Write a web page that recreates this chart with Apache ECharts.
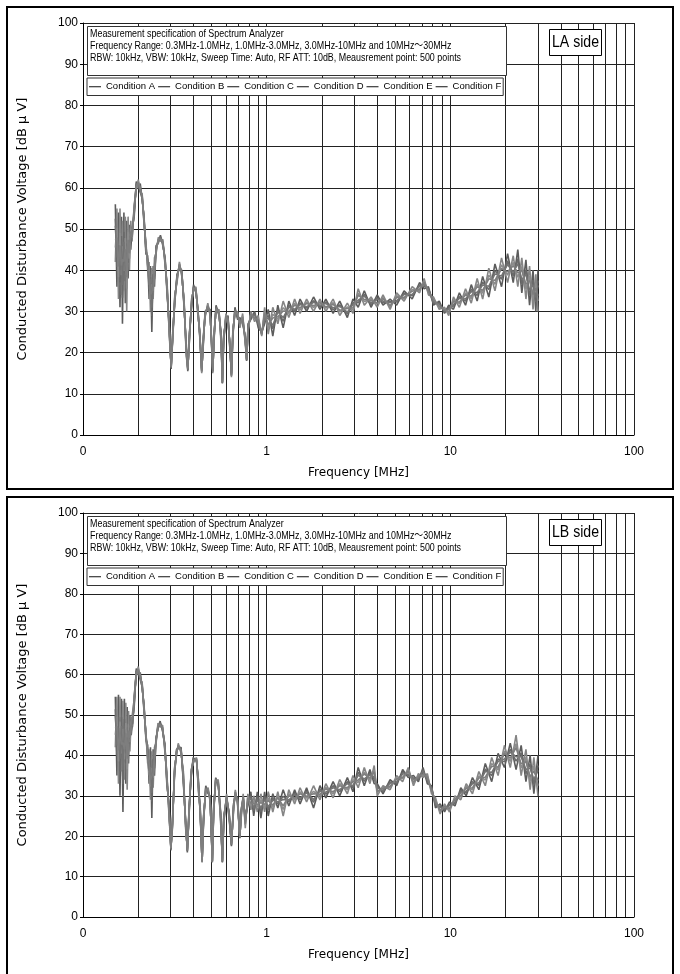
<!DOCTYPE html>
<html>
<head>
<meta charset="utf-8">
<script src="https://cdn.jsdelivr.net/npm/echarts@6/dist/echarts.min.js"></script>
<style>
  html, body { margin: 0; padding: 0; background: #fff; }
  #chart { width: 680px; height: 974px; }
</style>
</head>
<body>
<div id="chart"></div>
<script>
const names = ['Condition A', 'Condition B', 'Condition C', 'Condition D', 'Condition E', 'Condition F'];
const colors = ['#5c5c5c', '#858585', '#6a6a6a', '#8c8c8c', '#737373', '#7e7e7e'];
const minorTicks = [0.2, 0.3, 0.4, 0.5, 0.6, 0.7, 0.8, 0.9, 2, 3, 4, 5, 6, 7, 8, 9, 20, 30, 40, 50, 60, 70, 80, 90];
const sideLabels = ['LA side', 'LB side'];
const specLines = [
  'Measurement specification of Spectrum Analyzer',
  'Frequency Range: 0.3MHz-1.0MHz, 1.0MHz-3.0MHz, 3.0MHz-10MHz and 10MHz\uFF5E30MHz',
  'RBW: 10kHz, VBW: 10kHz, Sweep Time: Auto, RF ATT: 10dB, Meausrement point: 500 points'
];

// ---- LA side ----
const freqLA = [
  0.150,0.153,0.156,0.159,0.162,0.164,0.167,0.170,0.173,0.176,
  0.179,0.182,0.185,0.190,0.195,0.200,0.205,0.210,0.215,0.220,
  0.225,0.229,0.233,0.237,0.241,0.245,0.250,0.257,0.264,0.272,
  0.280,0.287,0.295,0.302,0.308,0.316,0.325,0.335,0.345,0.355,
  0.365,0.372,0.380,0.390,0.400,0.412,0.422,0.432,0.443,0.452,
  0.462,0.478,0.492,0.502,0.509,0.517,0.530,0.550,0.565,0.574,
  0.583,0.600,0.616,0.632,0.643,0.655,0.672,0.695,0.715,0.740,
  0.765,0.778,0.792,0.820,0.860,0.900,0.940,0.975,1.02,1.08,
  1.15,1.23,1.32,1.42,1.52,1.65,1.80,1.95,2.10,2.30,
  2.50,2.75,2.95,3.15,3.40,3.70,4.00,4.30,4.70,5.10,
  5.60,6.20,6.80,7.20,7.60,8.10,8.70,9.30,9.80,10.4,
  11.2,12.1,13.0,14.0,15.0,16.2,17.5,19.0,20.5,22.0,
  23.3,24.5,25.8,27.0,28.2,29.2,30.0
];
const laA = [
  56,36,54,31,53,27,54,32,52,38,
  51,45,50,53,61.5,60,61,57,53,44,
  43.5,33,41,25,41,36,46,46.5,48.5,46,
  43,34,27,16,25,32,39,40.5,40,31,
  22,15.5,25,31,36.5,34.5,31,24,16,22,
  30,30.5,30.5,21,16,23,31.5,29,25,12.5,
  24,28,29,20,15,24,31,28,28.5,27,
  24,18,27,28,30,26,25,27,30.5,24,
  31.5,26,32.5,29,33,30,33.5,30.5,33,29.5,
  32.5,28.5,33,31,35,31,34,31.5,33,31.5,
  35,33,37,35.5,36,31.5,32.5,29.5,31.5,30.5,
  34.5,31.5,36.5,32.5,38.5,33.5,41.5,36,44,37,
  45,34.5,42.5,31.5,40,30,40
];
const laB = [
  42,55,33,55,34,52,35,53,30,53,
  40,52,47,56,59.5,62,59,58.5,51,47,
  40,42,30,40.5,33,43,44,48,47,47.5,
  41,37,24,17,23,34,37,42,38.5,33,
  19,16.5,23,33,35,36,29,25.5,15,24,
  28.5,32,29,23,15,25,30,30.5,22,13,
  22,29.5,27,22,14,26,29,30,26,29.5,
  22,18.5,25,30,27.5,29,24,31,24.5,31,
  27,32.5,28.5,33,29.5,33,30,33,30,33,
  29,32,29.5,35.5,31.5,33.5,31,34,30.5,34.5,
  32.5,36,34.5,38,34,33.5,30.5,31,29,33.5,
  31,35.5,32,38,33,40.5,35,43,37,43.5,
  36,43,33,41,30.5,39,30
];
const laC = [
  52.5,40.8,48.8,37,48.3,33.3,49.3,37.3,46.5,41.8,
  48.3,46.8,49.3,53.8,61,60.5,60.5,57.4,52.5,44.8,
  42.6,35.3,38.3,28.9,39,37.8,45.5,46.9,48.1,46.4,
  42.5,34.8,26.3,16.3,24.5,32.5,38.5,40.9,39.6,31.5,
  21.3,15.8,24.5,31.5,36.1,34.9,30.5,24.4,15.8,22.5,
  29.6,30.9,30.1,21.5,15.8,23.5,31.1,29.4,24.3,12.6,
  23.5,28.4,28.5,20.5,14.8,24.5,30.5,28.5,27.9,27.6,
  23.5,18.1,26.5,28.5,29.4,26.8,24.8,28,29,25.8,
  30.4,27.6,31.5,30,32.1,30.8,32.6,31.1,32.3,30.4,
  31.6,29.4,32.1,32.1,34.1,31.6,33.3,32.1,32.4,32.3,
  34.4,33.8,36.4,36.1,35.5,32,32,29.9,30.9,31.3,
  33.6,32.5,35.4,33.9,37.1,35.3,39.9,37.8,42.3,38.6,
  42.8,36.6,40.1,33.9,37.6,32.3,37.5
];
const laD = [
  45.5,50.3,38.3,49,38.8,45.8,39.8,47.8,35.5,49.3,
  42.8,50.3,47.8,55.3,60,61.5,59.5,58.1,51.5,46.3,
  40.9,39.8,32.8,36.6,35,41.3,44.5,47.6,47.4,47.1,
  41.5,36.3,24.8,16.8,23.5,33.5,37.5,41.6,38.9,32.5,
  19.8,16.3,23.5,32.5,35.4,35.6,29.5,25.1,15.3,23.5,
  28.9,31.6,29.4,22.5,15.3,24.5,30.4,30.1,22.8,12.9,
  22.5,29.1,27.5,21.5,14.3,25.5,29.5,29.5,26.6,28.9,
  22.5,18.4,25.5,29.5,28.1,28.3,24.3,30,26,29.3,
  28.1,30.9,29.5,32,30.4,32.3,30.9,32.4,30.8,32.1,
  29.9,31.1,30.4,34.4,32.4,32.9,31.8,33.4,31.1,33.8,
  33.1,35.3,35.1,37.4,34.5,33,31,30.6,29.6,32.8,
  31.9,34.5,33.1,36.6,34.4,38.8,36.6,41.3,38.8,41.9,
  38.3,40.9,35.4,38.6,32.9,36.8,32.5
];
const laE = [
  50.8,43.1,46.1,40,45.9,36.4,46.9,39.9,43.8,43.6,
  46.9,47.6,48.9,54.1,60.8,60.8,60.3,57.6,52.3,45.1,
  42.2,36.4,36.9,30.9,38,38.6,45.3,47.1,47.9,46.6,
  42.3,35.1,25.9,16.4,24.3,32.8,38.3,41.1,39.4,31.8,
  20.9,15.9,24.3,31.8,35.9,35.1,30.3,24.6,15.6,22.8,
  29.4,31.1,29.9,21.8,15.6,23.8,30.9,29.6,23.9,12.7,
  23.3,28.6,28.3,20.8,14.6,24.8,30.3,28.8,27.6,28,
  23.3,18.2,26.3,28.8,29.1,27.1,24.6,28.5,28.3,26.6,
  29.9,28.5,31,30.5,31.7,31.1,32.2,31.5,31.9,30.9,
  31.2,29.8,31.7,32.7,33.7,32,32.9,32.5,32.1,32.6,
  34.1,34.1,36.1,36.5,35.3,32.3,31.8,30.1,30.6,31.6,
  33.2,33,34.8,34.6,36.4,36.1,39.1,38.6,41.4,39.5,
  41.6,37.7,39,35.1,36.5,33.4,36.3
];
const laF = [
  47.3,47.9,40.9,46,41.1,42.6,42.1,45.1,38.3,47.4,
  44.1,49.4,48.1,54.9,60.3,61.3,59.8,57.9,51.8,45.9,
  41.3,38.6,34.1,34.7,36,40.4,44.8,47.4,47.6,46.9,
  41.8,35.9,25.1,16.6,23.8,33.3,37.8,41.4,39.1,32.3,
  20.1,16.1,23.8,32.3,35.6,35.4,29.8,24.9,15.4,23.3,
  29.1,31.4,29.6,22.3,15.4,24.3,30.6,29.9,23.1,12.8,
  22.8,28.9,27.8,21.3,14.4,25.3,29.8,29.3,26.9,28.6,
  22.8,18.3,25.8,29.3,28.4,27.9,24.4,29.5,26.8,28.4,
  28.7,30.1,30,31.5,30.9,31.9,31.4,32.1,31.1,31.7,
  30.3,30.7,30.9,33.9,32.9,32.6,32.1,33.1,31.4,33.4,
  33.4,34.9,35.4,37.1,34.8,32.8,31.3,30.4,29.9,32.4,
  32.3,34,33.7,36,35.1,37.9,37.5,40.4,39.6,41.1,
  39.4,39.9,36.6,37.5,34.1,35.6,33.8
];

// ---- LB side ----
const freqLB = [
  0.150,0.153,0.156,0.159,0.162,0.165,0.168,0.171,0.174,0.177,
  0.180,0.183,0.186,0.190,0.195,0.200,0.205,0.210,0.215,0.220,
  0.225,0.229,0.233,0.237,0.241,0.245,0.250,0.256,0.263,0.271,
  0.279,0.286,0.294,0.301,0.307,0.315,0.323,0.330,0.342,0.352,
  0.362,0.370,0.378,0.388,0.398,0.415,0.425,0.435,0.445,0.453,
  0.466,0.480,0.492,0.500,0.506,0.514,0.528,0.545,0.562,0.574,
  0.584,0.605,0.625,0.643,0.660,0.675,0.695,0.714,0.728,0.745,
  0.765,0.790,0.820,0.850,0.890,0.930,0.975,1.02,1.08,1.15,
  1.23,1.32,1.42,1.52,1.65,1.80,1.95,2.10,2.30,2.50,
  2.75,2.95,3.15,3.40,3.65,3.85,4.00,4.30,4.70,5.10,
  5.50,5.90,6.30,6.70,7.10,7.50,7.90,8.30,8.80,9.30,
  9.90,10.6,11.4,12.2,13.2,14.3,15.5,16.8,18.2,19.7,
  21.2,22.8,24.3,25.8,27.2,28.5,30.0
];
const lbA = [
  54.5,35,55,30,54,26,54,33,52,38,
  50,45,48.5,52,61.5,60,60.5,56.5,52.5,44,
  42.5,33,42,24.5,41.5,35,44.5,46.5,48.5,46,
  43,33,28,16.5,24,35,41.5,41.5,42,33,
  24,16,27,34.5,39.5,38.5,34,25,14,23,
  32.5,30.5,30,20,14,25,34.5,32.5,26,13.5,
  25,29,26,17.5,28,30,29.5,19.5,27,29,
  25,27.5,31,25,31,24.5,31,25,30.5,27,
  31.5,27.5,31.5,28,32,27,32.5,29.5,33.5,30,
  34.5,31,37,32.5,36.5,33,33,30.5,34,32.5,
  36.5,34.5,35,33.5,37,33,32.5,27,28,26,
  28.5,27.5,32,30,34.5,31.5,38,33.5,40.5,37,
  43,36.5,42.5,33.5,40,30.5,40
];
const lbB = [
  42,54.5,33,54.5,36,53.5,34,53,31.5,51,
  41,49.5,47,55,59.5,62,59,58,50.5,46,
  38,41.5,29,41,32,42,43,48,47,47.5,
  41,36,25,17.5,22,37,40,43,40.5,36,
  22,17,25,36.5,38,39.5,31,27,13.5,25,
  31,32,28.5,22,13.5,27,33.5,34,23,14,
  23,30.5,24,18.5,26,31.5,27.5,20,25,30.5,
  22,30.5,26.5,30,26,30.5,26,31,26,31,
  25,31.5,28,32,28.5,32.5,29,33,29.5,34,
  30.5,35,32,37,33,37.5,30,32.5,31.5,35,
  33.5,37,32.5,35.5,34.5,35.5,30.5,29.5,25.5,28,
  26,30,29,33,30.5,36,32.5,39.5,35,42.5,
  37,45,35,41.5,31.5,39.5,30
];
const lbC = [
  51.4,39.9,49.5,36.1,49.5,32.9,49,38,46.9,41.3,
  47.8,46.1,48.1,52.8,61,60.5,60.1,56.9,52,44.5,
  41.4,35.1,38.8,28.6,39.1,36.8,44.1,46.9,48.1,46.4,
  42.5,33.8,27.3,16.8,23.5,35.5,41.1,41.9,41.6,33.8,
  23.5,16.3,26.5,35,39.1,38.8,33.3,25.5,13.9,23.5,
  32.1,30.9,29.6,20.5,13.9,25.5,34.3,32.9,25.3,13.6,
  24.5,29.4,25.5,17.8,27.5,30.4,29,19.6,26.5,29.4,
  24.3,28.3,29.9,26.3,29.8,26,29.8,26.5,29.4,28,
  29.9,28.5,30.6,29,31.1,28.4,31.6,30.4,32.5,31,
  33.5,32,35.8,33.6,35.6,34.1,32.3,31,33.4,33.1,
  35.8,35.1,34.4,34,36.4,33.6,32,27.6,27.4,26.5,
  27.9,28.1,31.3,30.8,33.5,32.6,36.6,35,39.1,38.4,
  41.5,38.6,40.6,35.5,37.9,32.8,37.5
];
const lbD = [
  45.1,49.6,38.5,48.4,40.5,46.6,39,48,36.6,47.8,
  43.3,48.4,47.4,54.3,60,61.5,59.4,57.6,51,45.5,
  39.1,39.4,32.3,36.9,34.4,40.3,43.4,47.6,47.4,47.1,
  41.5,35.3,25.8,17.3,22.5,36.5,40.4,42.6,40.9,35.3,
  22.5,16.8,25.5,36,38.4,39.3,31.8,26.5,13.6,24.5,
  31.4,31.6,28.9,21.5,13.6,26.5,33.8,33.6,23.8,13.9,
  23.5,30.1,24.5,18.3,26.5,31.1,28,19.9,25.5,30.1,
  22.8,29.8,27.6,28.8,27.3,29,27.3,29.5,27.1,30,
  26.6,30.5,28.9,31,29.4,31.1,29.9,32.1,30.5,33,
  31.5,34,33.3,35.9,33.9,36.4,30.8,32,32.1,34.4,
  34.3,36.4,33.1,35,35.1,34.9,31,28.9,26.1,27.5,
  26.6,29.4,29.8,32.3,31.5,34.9,33.9,38,36.4,41.1,
  38.5,42.9,36.9,39.5,33.6,37.3,32.5
];
const lbE = [
  49.9,42.4,46.8,39.2,47.3,36.4,46.5,40.5,44.4,42.9,
  46.6,46.7,47.9,53.1,60.8,60.8,59.9,57.1,51.8,44.8,
  40.9,36.2,37.1,30.7,38,37.6,43.9,47.1,47.9,46.6,
  42.3,34.1,26.9,16.9,23.3,35.8,40.9,42.1,41.4,34.1,
  23.3,16.4,26.3,35.3,38.9,38.9,32.9,25.8,13.8,23.8,
  31.9,31.1,29.4,20.8,13.8,25.8,34.1,33.1,24.9,13.7,
  24.3,29.6,25.3,17.9,27.3,30.6,28.8,19.7,26.3,29.6,
  23.9,28.6,29.4,26.9,29.1,26.8,29.1,27.3,28.9,28.5,
  29.1,29,30.2,29.5,30.7,29.1,31.2,30.9,32,31.5,
  33,32.5,35.1,34.2,35.2,34.7,31.9,31.3,33.1,33.4,
  35.4,35.4,34.1,34.3,36.1,34,31.8,28,27.1,26.8,
  27.6,28.4,30.9,31.1,33,33.2,36,35.8,38.5,39.1,
  40.8,39.7,39.7,36.5,36.9,33.9,36.3
];
const lbF = [
  46.7,47.2,41.3,45.4,42.7,43.2,41.5,45.5,39.2,46.1,
  44.4,47.9,47.6,53.9,60.3,61.3,59.6,57.4,51.3,45.3,
  39.7,38.4,33.9,34.9,35.6,39.4,43.6,47.4,47.6,46.9,
  41.8,34.9,26.1,17.1,22.8,36.3,40.6,42.4,41.1,34.9,
  22.8,16.6,25.8,35.8,38.6,39.1,32.1,26.3,13.7,24.3,
  31.6,31.4,29.1,21.3,13.7,26.3,33.9,33.4,24.1,13.8,
  23.8,29.9,24.8,18.1,26.8,30.9,28.3,19.8,25.8,29.9,
  23.1,29.4,28.2,28.1,27.9,28.3,27.9,28.8,27.7,29.5,
  27.5,30,29.4,30.5,29.9,30.5,30.4,31.7,31,32.5,
  32,33.5,33.9,35.4,34.4,35.9,31.1,31.8,32.4,34.1,
  34.6,36.1,33.4,34.8,35.4,34.6,31.3,28.6,26.4,27.3,
  26.9,29.1,30.1,31.9,32,34.4,34.6,37.3,37.1,40.5,
  39.3,41.9,37.9,38.5,34.7,36.1,33.8
];

const panels = [
  { freq: freqLA, series: [laA, laB, laC, laD, laE, laF] },
  { freq: freqLB, series: [lbA, lbB, lbC, lbD, lbE, lbF] }
];

const NARROW = "'Liberation Sans', 'Noto Sans CJK JP', sans-serif";
const SANS = "'DejaVu Sans', 'Noto Sans', sans-serif";

const grids = [
  { left: 83, top: 23, width: 551, height: 412 },
  { left: 83, top: 513, width: 551, height: 404 }
];
const offsets = [0, 490];

const chart = echarts.init(document.getElementById('chart'), null, { renderer: 'canvas' });

const xAxes = grids.map((g, i) => ({
  type: 'log', logBase: 10, min: 0.1, max: 100, gridIndex: i,
  name: 'Frequency [MHz]', nameLocation: 'middle', nameGap: 32,
  nameTextStyle: { fontFamily: SANS, fontSize: 12, color: '#000' },
  axisLine: { show: true, lineStyle: { color: '#000', width: 1 } },
  axisTick: { show: false },
  axisLabel: { fontFamily: NARROW, fontSize: 12, color: '#000', margin: 11,
    formatter: v => (v < 1 ? '0' : String(Math.round(v))) },
  splitLine: { show: true, lineStyle: { color: '#222', width: 1 } }
}));

const yAxes = grids.map((g, i) => ({
  type: 'value', min: 0, max: 100, interval: 10, gridIndex: i,
  name: 'Conducted Disturbance Voltage [dB \u03BC V]', nameLocation: 'middle', nameGap: 54,
  nameTextStyle: { fontFamily: SANS, fontSize: 13, color: '#000' },
  axisLine: { show: true, lineStyle: { color: '#000', width: 1 } },
  axisTick: { show: true, length: 3, lineStyle: { color: '#000' } },
  axisLabel: { fontFamily: NARROW, fontSize: 12, color: '#000', margin: 5 },
  splitLine: { show: true, lineStyle: { color: '#222', width: 1 } }
}));

const series = [];
panels.forEach((p, pi) => {
  // minor vertical grid lines (2..9 of each decade), placed through the log scale
  series.push({
    type: 'line', name: 'minor-grid', xAxisIndex: pi, yAxisIndex: pi, data: [],
    silent: true, z: 1, animation: false,
    markLine: {
      z: 1, silent: true, symbol: 'none', animation: false, label: { show: false },
      lineStyle: { color: '#222', width: 1, type: 'solid' },
      data: minorTicks.map(v => ({ xAxis: v }))
    }
  });
  p.series.forEach((vals, k) => {
    series.push({
      type: 'line', name: names[k], xAxisIndex: pi, yAxisIndex: pi,
      data: p.freq.map((f, i) => [f, vals[i]]),
      showSymbol: false, symbol: 'none', silent: true, animation: false, z: 2,
      lineStyle: { color: colors[k], width: 1.6 },
      // itemStyle only feeds the legend icon (symbols are hidden)
      itemStyle: { color: '#111' }
    });
  });
});

const legends = offsets.map(dy => ({
  data: names, left: 87, top: 78 + dy, orient: 'horizontal', z: 20,
  icon: 'rect', itemWidth: 12, itemHeight: 1, itemGap: 3,
  backgroundColor: '#fff', borderColor: '#333', borderWidth: 1, borderRadius: 0,
  padding: [4, 2, 4, 2], selectedMode: false,
  textStyle: { fontFamily: NARROW, fontSize: 9.5, color: '#000' }
}));

const graphic = [];
offsets.forEach((dy, i) => {
  graphic.push({
    type: 'rect', z: 100, silent: true,
    shape: { x: 7, y: 7 + dy, width: 666, height: i === 0 ? 482 : 480 },
    style: { fill: 'none', stroke: '#000', lineWidth: 2 }
  });
  graphic.push({
    type: 'rect', z: 100, silent: true,
    shape: { x: 87.5, y: 26.5 + dy, width: 419, height: 49 },
    style: { fill: '#fff', stroke: '#333', lineWidth: 1 }
  });
  specLines.forEach((t, j) => {
    graphic.push({
      type: 'text', z: 101, silent: true, x: 90, y: 28 + dy + j * 12, scaleX: 0.81,
      style: { text: t, fontFamily: NARROW, fontSize: 11, fill: '#000', verticalAlign: 'top' }
    });
  });
  graphic.push({
    type: 'rect', z: 100, silent: true,
    shape: { x: 549.5, y: 29.5 + dy, width: 52, height: 26 },
    style: { fill: '#fff', stroke: '#000', lineWidth: 1 }
  });
  graphic.push({
    type: 'text', z: 101, silent: true, x: 575.5, y: 42.5 + dy, scaleX: 0.83,
    style: { text: sideLabels[i], fontFamily: NARROW, fontSize: 17, fill: '#000',
      align: 'center', verticalAlign: 'middle' }
  });
});

chart.setOption({
  backgroundColor: '#fff',
  animation: false,
  grid: grids,
  xAxis: xAxes,
  yAxis: yAxes,
  legend: legends,
  series: series,
  graphic: graphic
});
</script>
</body>
</html>
